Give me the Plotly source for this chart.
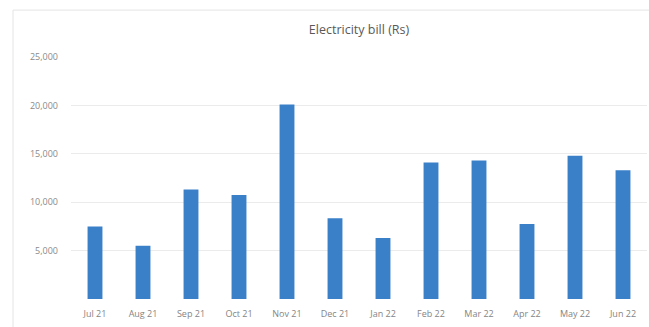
import plotly.graph_objects as go

# Monthly electricity bill in rupees
months = ["Jul 21", "Aug 21", "Sep 21", "Oct 21", "Nov 21", "Dec 21",
          "Jan 22", "Feb 22", "Mar 22", "Apr 22", "May 22", "Jun 22"]
bill_rs = [7500, 5500, 11300, 10750, 20100, 8350,
           6300, 14100, 14300, 7750, 14800, 13300]
y_ticks = [5000, 10000, 15000, 20000, 25000]

W, H = 649, 327
ml, mr, mt, mb = 71, 2, 57, 27.5
plot_w = W - ml - mr
plot_h = H - mt - mb

fig = go.Figure(
    go.Bar(
        x=months,
        y=bill_rs,
        marker=dict(color="#3a80c8", line=dict(width=0)),
        hoverinfo="x+y",
    )
)

# light frame around the chart area
fig.add_shape(
    type="rect",
    xref="paper", yref="paper",
    x0=(13 - ml) / plot_w, x1=(W + 5 - ml) / plot_w,
    y0=(H - mb - (H + 5)) / plot_h, y1=(H - mb - 10) / plot_h,
    line=dict(color="#e4e4e4", width=1),
    fillcolor="rgba(0,0,0,0)",
    layer="below",
)

fig.update_layout(
    width=W, height=H,
    margin=dict(l=ml, r=mr, t=mt, b=mb),
    paper_bgcolor="white",
    plot_bgcolor="white",
    bargap=0.69,
    showlegend=False,
    title=dict(
        text="Electricity bill (Rs)",
        x=0.5, xref="paper", xanchor="center",
        y=1 - 30 / H, yanchor="middle",
        font=dict(family="Open Sans", size=12.5, color="#595959"),
    ),
    font=dict(family="Open Sans", color="#808080"),
    xaxis=dict(
        type="category",
        showgrid=False,
        showline=False,
        zeroline=False,
        ticks="",
        ticklabelstandoff=8,
        tickfont=dict(size=9, color="#858585"),
        fixedrange=True,
    ),
    yaxis=dict(
        range=[0, 25000],
        tickvals=y_ticks,
        tickformat=",d",
        showgrid=True,
        gridcolor="#ebebeb",
        gridwidth=1,
        zeroline=False,
        showline=False,
        ticks="",
        ticklabelstandoff=12,
        tickfont=dict(size=9, color="#8a8a8a"),
        fixedrange=True,
    ),
)

fig.write_html("out.html")
